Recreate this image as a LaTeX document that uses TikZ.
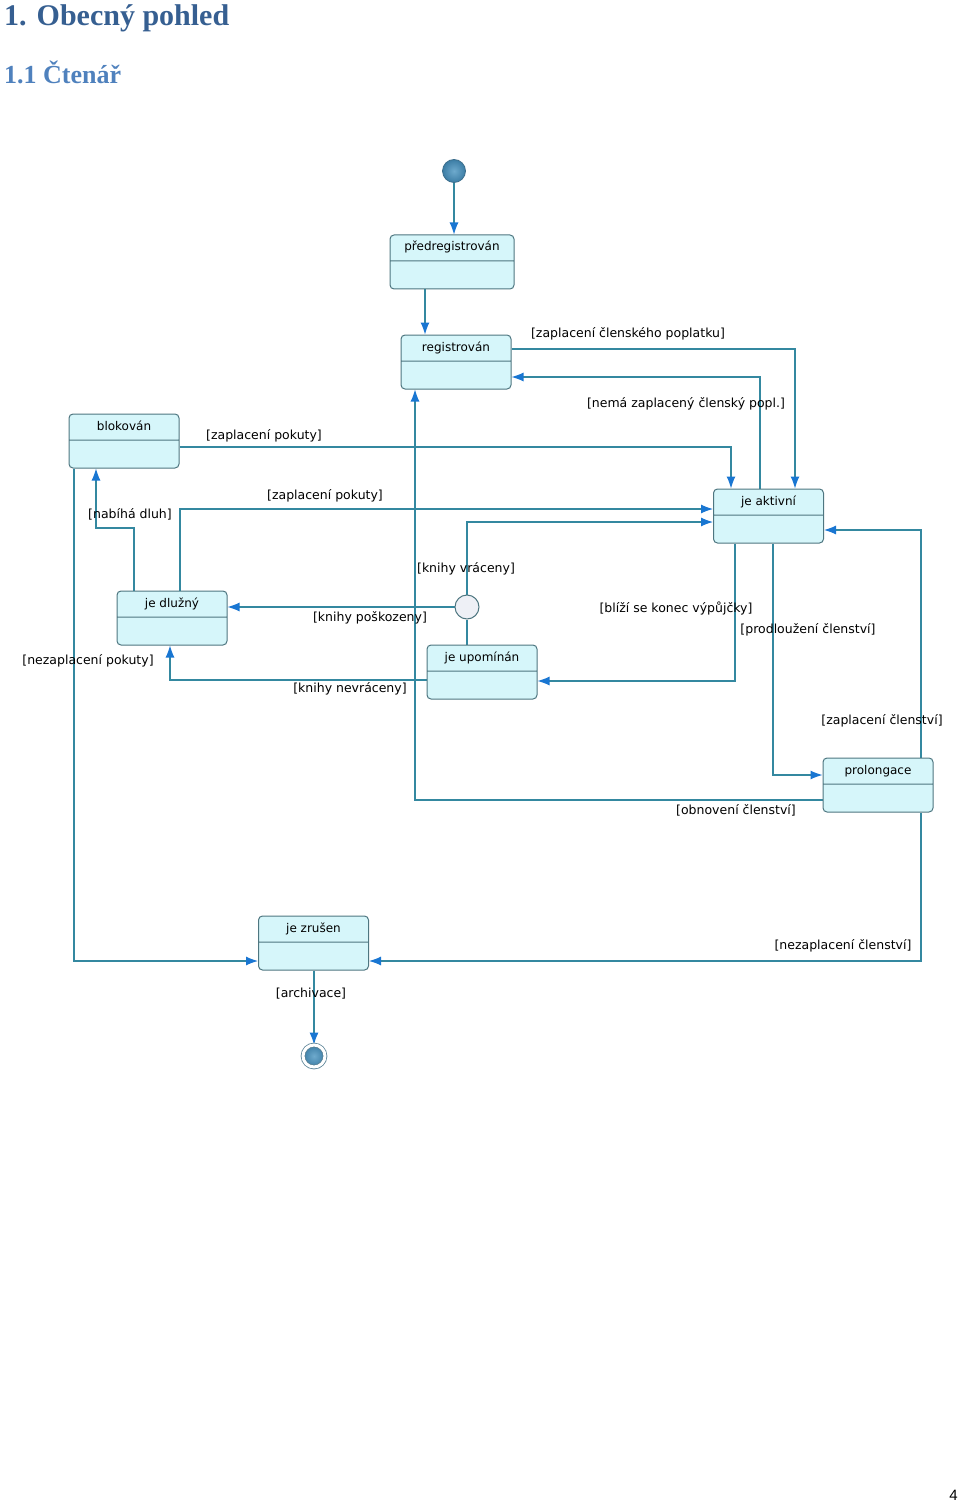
\documentclass[tikz,border=0pt]{standalone}
\usepackage{fontspec}
\setmainfont{Liberation Sans}
\newfontfamily\diafont{DejaVu Sans}
\newfontfamily\headfont{Liberation Serif}
\usepackage{xcolor}
\usetikzlibrary{arrows.meta}
\usetikzlibrary{shapes,shapes.multipart,shapes.geometric}
\pgfdeclarelayer{edgelayer}
\pgfdeclarelayer{nodelayer}
\pgfsetlayers{edgelayer,nodelayer,main}
\definecolor{linecol}{RGB}{52,136,160}
\definecolor{arrowcol}{RGB}{25,118,210}
\definecolor{boxline}{RGB}{78,118,128}
\definecolor{boxfill}{RGB}{214,246,250}
\definecolor{hone}{RGB}{54,95,145}
\definecolor{htwo}{RGB}{79,129,189}
\tikzstyle{none}=[inner sep=0pt]
\tikzstyle{st}=[rectangle split,rectangle split parts=2,draw=boxline,fill=boxfill,rounded corners=4pt,line width=1pt,minimum width=110pt,inner xsep=4pt,inner ysep=7pt,text height=8.5pt,text depth=2.5pt,rectangle split empty part height=13pt,rectangle split empty part depth=0pt,font=\diafont\fontsize{12}{14}\selectfont]
\tikzstyle{lbl}=[none,font=\diafont\fontsize{12.5}{14}\selectfont]
\tikzstyle{ln}=[draw=linecol,line width=1.1pt]
\tikzstyle{tr}=[ln,-{Latex[length=12pt,width=9pt,color=arrowcol]}]
\tikzstyle{ini}=[circle,minimum size=23pt,inner sep=0pt,draw={rgb,255:red,60;green,110;blue,140},line width=0.8pt,inner color={rgb,255:red,110;green,170;blue,205},outer color={rgb,255:red,60;green,125;blue,165}]
\tikzstyle{fin}=[circle,double=white,double distance=3pt,draw={rgb,255:red,90;green,130;blue,150},line width=0.8pt,minimum size=22pt,inner sep=0pt,inner color={rgb,255:red,110;green,170;blue,205},outer color={rgb,255:red,60;green,125;blue,165}]
\tikzstyle{jn}=[circle,minimum size=24pt,inner sep=0pt,draw=boxline,fill={rgb,255:red,238;green,240;blue,246},line width=1pt]

\begin{document}
\begin{tikzpicture}[x=1pt,y=-1pt]
	\useasboundingbox (0,0) rectangle (960,1503);
	\node [none,anchor=base west,text=hone,font=\headfont\bfseries\fontsize{30}{34}\selectfont] (h1) at (4,26) {1. Obecný pohled};
	\node [none,anchor=base west,text=htwo,font=\headfont\bfseries\fontsize{26}{30}\selectfont] (h2) at (4,84) {1.1 Čtenář};
	\node [none,anchor=base east,font=\fontsize{15}{18}\selectfont] (pg) at (958,1500) {4};
	\begin{pgfonlayer}{nodelayer}
		\node [ini] (start) at (454,171) {};
		\node [st,minimum width=124pt] (pre) at (452,262) {předregistrován};
		\node [st] (reg) at (456,362) {registrován};
		\node [st] (blk) at (124,441) {blokován};
		\node [st] (akt) at (768.5,516) {je aktivní};
		\node [st] (dlu) at (172,618) {je dlužný};
		\node [jn] (cho) at (467,607) {};
		\node [st] (upo) at (482,672) {je upomínán};
		\node [st] (pro) at (878,785) {prolongace};
		\node [st] (zru) at (313.5,943) {je zrušen};
		\node [fin] (end) at (314,1056) {};
		% guards
		\node [lbl] (g1) at (628,334) {[zaplacení členského poplatku]};
		\node [lbl] (g2) at (686,404) {[nemá zaplacený členský popl.]};
		\node [lbl] (g3) at (264,436) {[zaplacení pokuty]};
		\node [lbl] (g4) at (325,496) {[zaplacení pokuty]};
		\node [lbl] (g5) at (130,514) {[nabíhá dluh]};
		\node [lbl] (g6) at (466,569) {[knihy vráceny]};
		\node [lbl] (g7) at (370,618) {[knihy poškozeny]};
		\node [lbl] (g8) at (676,608) {[blíží se konec výpůjčky]};
		\node [lbl] (g9) at (808,630) {[prodloužení členství]};
		\node [lbl] (g10) at (88,661) {[nezaplacení pokuty]};
		\node [lbl] (g11) at (350,689) {[knihy nevráceny]};
		\node [lbl] (g12) at (882,721) {[zaplacení členství]};
		\node [lbl] (g13) at (736,810) {[obnovení členství]};
		\node [lbl] (g14) at (843,946) {[nezaplacení členství]};
		\node [lbl] (g15) at (311,994) {[archivace]};
	\end{pgfonlayer}
	\begin{pgfonlayer}{edgelayer}
		\draw [tr] (start) -- (start |- pre.north);
		\draw [tr] (pre.south -| 425,0) -- (reg.north -| 425,0);
		\draw [tr] (reg.east |- 0,349) -| (akt.north -| 795,0);
		\draw [tr] (akt.north -| 760,0) |- (reg.east |- 0,377);
		\draw [tr] (blk.east |- 0,447) -| (akt.north -| 731,0);
		\draw [tr] (dlu.north -| 180,0) |- (akt.west |- 0,509);
		\draw [tr] (cho.north) |- (akt.west |- 0,522);
		\draw [tr] (dlu.north -| 134,0) -- (134,528) -| (blk.south -| 96,0);
		\draw [tr] (cho.west) -- (dlu.east |- cho.west);
		\draw [ln] (upo.north -| cho) -- (cho.south);
		\draw [tr] (akt.south -| 735,0) |- (upo.east |- 0,681);
		\draw [tr] (upo.west |- 0,680) -| (dlu.south -| 170,0);
		\draw [tr] (akt.south -| 773,0) |- (pro.west |- 0,775);
		\draw [tr] (pro.north -| 921,0) |- (akt.east |- 0,530);
		\draw [tr] (pro.west |- 0,800) -| (reg.south -| 415,0);
		\draw [tr] (pro.south -| 921,0) |- (zru.east |- 0,961);
		\draw [tr] (blk.south -| 74,0) |- (zru.west |- 0,961);
		\draw [tr] (zru.south -| end) -- (end.north);
	\end{pgfonlayer}
\end{tikzpicture}
\end{document}
